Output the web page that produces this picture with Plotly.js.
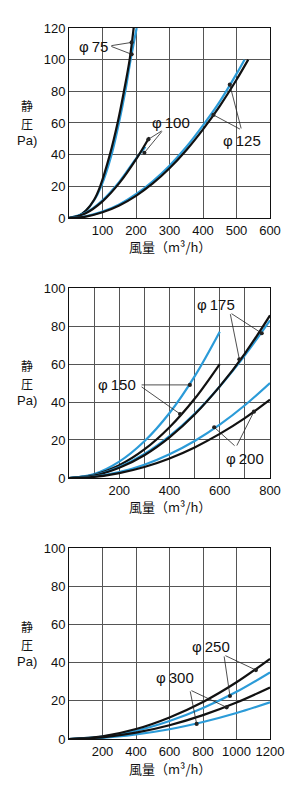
<!DOCTYPE html>
<html><head><meta charset="utf-8">
<script src="https://cdn.plot.ly/plotly-3.0.1.min.js"></script>
<style>html,body{margin:0;padding:0;background:#fff}#chart{width:300px;height:797px}</style>
</head><body><div id="chart"></div>
<script>
// ---------- Chart 1 : φ75, φ100, φ125 ----------
const flow75Black = [0, 25, 50, 75, 93, 122, 145, 164, 181, 193];
const pres75Black = [0, 0.9, 4.5, 11.5, 20, 40, 60, 80, 100, 120];
const flow75Blue  = [0, 25, 50, 75, 96, 127, 149, 168, 184, 202];
const pres75Blue  = [0, 1.0, 4.6, 11.2, 20, 40, 60, 80, 100, 120];
const flow100Black = [0, 50, 100, 150, 200, 240];
const pres100Black = [0, 3, 10.5, 22, 37, 51];
const flow100Blue  = [0, 50, 100, 150, 200, 228];
const pres100Blue  = [0, 3.3, 11.2, 22.8, 37.5, 45];
const flow125Black = [0, 50, 100, 150, 200, 250, 300, 350, 400, 450, 500, 535];
const pres125Black = [0, 0.9, 3.6, 7.9, 14, 21.8, 31.4, 42.8, 56, 70.7, 87.3, 100];
const flow125Blue  = [0, 50, 100, 150, 200, 250, 300, 350, 400, 450, 500, 524];
const pres125Blue  = [0, 1.1, 4, 8.6, 15, 23.2, 33, 44.8, 58.5, 73.5, 91, 100];

// ---------- Chart 2 : φ150, φ175, φ200 ----------
const flow150 = [0, 100, 200, 300, 400, 500, 600];
const pres150Blue  = [0, 2.1, 8.6, 19.3, 34.2, 53.5, 77];
const pres150Black = [0, 1.7, 6.7, 15, 26.7, 41.7, 60];
const flow175_200 = [0, 100, 200, 300, 400, 500, 600, 700, 800];
const pres175Black = [0, 1.3, 5.4, 12, 21.4, 33.4, 48.2, 65.5, 85.6];
const pres175Blue  = [0, 1.5, 5.8, 12.6, 22, 33.8, 48.2, 64.6, 83];
const pres200Blue  = [0, 0.8, 3.1, 7, 12.5, 19.5, 28.1, 38.3, 50];
const pres200Black = [0, 0.6, 2.6, 5.8, 10.3, 16.1, 23.2, 31.5, 41.2];

// ---------- Chart 3 : φ250, φ300 ----------
const flow250_300 = [0, 200, 400, 600, 800, 1000, 1200];
const pres250Black = [0, 1.4, 5.2, 11.3, 19.4, 29.7, 42];
const pres250Blue  = [0, 1.2, 4.3, 9.4, 16.2, 24.7, 34.9];
const pres300Black = [0, 0.9, 3.3, 7.2, 12.5, 19.1, 27];
const pres300Blue  = [0, 0.6, 2.4, 5.1, 8.9, 13.6, 19.2];

// ---------- ticks ----------
const xTicks1 = [100, 200, 300, 400, 500, 600];
const xTickText1 = ['100', '200', '300', '400', '500', '600'];
const xTicks2 = [100, 200, 300, 400, 500, 600, 700, 800];
const xTickText2 = ['', '200', '', '400', '', '600', '', '800'];
const xTicks3 = [200, 400, 600, 800, 1000, 1200];
const xTickText3 = ['200', '400', '600', '800', '1000', '1200'];
const yTicks1 = [0, 20, 40, 60, 80, 100, 120];
const yTicks23 = [0, 20, 40, 60, 80, 100];

// ---------- labels ----------
const labelText = ['φ\u200975', 'φ\u2009100', 'φ\u2009125', 'φ\u2009175', 'φ\u2009150', 'φ\u2009200', 'φ\u2009250', 'φ\u2009300'];
const labelAxis = [1, 1, 1, 2, 2, 2, 3, 3];
const labelX = [72, 304, 517, 584, 190, 700, 845, 633];
const labelY = [108.6, 60.2, 48.8, 91.4, 49, 10, 48.3, 32.1];

// pointer lines: from (tail) -> to (dot on curve)
const ptrAxis  = [1, 1, 1, 1, 1, 1, 2, 2, 2, 2, 2, 2, 3, 3, 3, 3];
const ptrFromX = [122, 122, 281, 281, 515, 515, 641, 641, 283, 283, 665, 665, 925, 925, 722, 722];
const ptrFromY = [108.7, 108.7, 55.6, 55.6, 55.6, 55.6, 87, 87, 49, 48.5, 16.3, 16.3, 44, 44, 25.7, 25.7];
const ptrToX   = [187, 187, 237, 225, 480, 431, 678, 767, 481, 442, 578, 736, 1116, 961, 941, 762];
const ptrToY   = [110.9, 103.4, 49.7, 41.2, 84.2, 65.1, 62.5, 76.2, 49, 33.7, 26.7, 34.9, 36.1, 22.5, 16.6, 7.9];

// y-axis title pieces (stacked vertically)
const yTitleParts = ['静', '圧', 'Pa)'];
const xTitle = '風量（m³/h）';

const BLACK = '#111111';
const BLUE = '#2b9bd8';

function tr(x, y, color, ax) {
  const n = ax === 1 ? '' : String(ax);
  return {x: x, y: y, xaxis: 'x' + n, yaxis: 'y' + n, mode: 'lines', hoverinfo: 'skip',
          line: {color: color, width: 2.2, shape: 'spline', smoothing: 1}, showlegend: false};
}

const data = [
  tr(flow75Blue, pres75Blue, BLUE, 1), tr(flow75Black, pres75Black, BLACK, 1),
  tr(flow100Blue, pres100Blue, BLUE, 1), tr(flow100Black, pres100Black, BLACK, 1),
  tr(flow125Blue, pres125Blue, BLUE, 1), tr(flow125Black, pres125Black, BLACK, 1),
  tr(flow150, pres150Blue, BLUE, 2), tr(flow150, pres150Black, BLACK, 2),
  tr(flow175_200, pres175Blue, BLUE, 2), tr(flow175_200, pres175Black, BLACK, 2),
  tr(flow175_200, pres200Blue, BLUE, 2), tr(flow175_200, pres200Black, BLACK, 2),
  tr(flow250_300, pres250Blue, BLUE, 3), tr(flow250_300, pres250Black, BLACK, 3),
  tr(flow250_300, pres300Blue, BLUE, 3), tr(flow250_300, pres300Black, BLACK, 3)
];

const tickFont = {family: '"Liberation Sans", Arial, sans-serif', size: 13, color: '#111'};
function xax(range, vals, text, anchor) {
  return {range: range, tickmode: 'array', tickvals: vals, ticktext: text, anchor: anchor,
          showgrid: true, gridcolor: '#555', gridwidth: 1, zeroline: false,
          showline: true, linecolor: '#111', linewidth: 1, mirror: true,
          ticks: '', tickfont: tickFont, fixedrange: true};
}
function yax(range, vals, domain, anchor) {
  return {range: range, tickmode: 'array', tickvals: vals, ticktext: vals.map(String), domain: domain, anchor: anchor,
          showgrid: true, gridcolor: '#555', gridwidth: 1, zeroline: false,
          showline: true, linecolor: '#111', linewidth: 1, mirror: true,
          ticks: '', tickfont: tickFont, fixedrange: true};
}

const annotations = [];
const lblFont = {family: '"Liberation Sans", Arial, sans-serif', size: 15, color: '#111'};
for (let i = 0; i < labelText.length; i++) {
  const n = labelAxis[i] === 1 ? '' : String(labelAxis[i]);
  annotations.push({text: labelText[i], x: labelX[i], y: labelY[i], xref: 'x' + n, yref: 'y' + n,
    showarrow: false, font: lblFont, xanchor: 'center', yanchor: 'middle'});
}
for (let i = 0; i < ptrFromX.length; i++) {
  const n = ptrAxis[i] === 1 ? '' : String(ptrAxis[i]);
  annotations.push({text: '', x: ptrToX[i], y: ptrToY[i], xref: 'x' + n, yref: 'y' + n,
    ax: ptrFromX[i], ay: ptrFromY[i], axref: 'x' + n, ayref: 'y' + n,
    showarrow: true, arrowhead: 6, arrowsize: 1.3, arrowwidth: 0.8, arrowcolor: '#222'});
}
const cjkFont = {family: '"Noto Sans CJK JP", sans-serif', size: 12, color: '#111'};
const latinFont = {family: '"Liberation Sans", Arial, sans-serif', size: 13, color: '#111'};
const titleFont = {family: '"Noto Sans CJK JP", sans-serif', size: 13, color: '#111'};
const yTitleShift = [17.5, -0.5, -17.5];
const yTitleFonts = [cjkFont, cjkFont, latinFont];
['', '2', '3'].forEach(function (n) {
  yTitleParts.forEach(function (part, k) {
    annotations.push({text: part, xref: 'x' + n + ' domain', yref: 'y' + n + ' domain',
      x: 0, y: 0.5, xshift: -42, yshift: yTitleShift[k], xanchor: 'center', yanchor: 'middle',
      showarrow: false, font: yTitleFonts[k]});
  });
  annotations.push({text: xTitle, xref: 'x' + n + ' domain', yref: 'y' + n + ' domain',
    x: 0.5, y: 0, yshift: -29, xanchor: 'center', yanchor: 'middle', showarrow: false, font: titleFont});
});

const layout = {
  width: 300, height: 797,
  margin: {l: 69, r: 30, t: 28, b: 58},
  paper_bgcolor: '#fff', plot_bgcolor: '#fff',
  showlegend: false,
  xaxis: xax([0, 600], xTicks1, xTickText1, 'y'),
  yaxis: yax([0, 120], yTicks1, [0.7328, 1], 'x'),
  xaxis2: xax([0, 800], xTicks2, xTickText2, 'y2'),
  yaxis2: yax([0, 100], yTicks23, [0.3671, 0.6343], 'x2'),
  xaxis3: xax([0, 1200], xTicks3, xTickText3, 'y3'),
  yaxis3: yax([0, 100], yTicks23, [0, 0.2686], 'x3'),
  annotations: annotations
};

Plotly.newPlot('chart', data, layout, {displayModeBar: false, staticPlot: true});
</script></body></html>
